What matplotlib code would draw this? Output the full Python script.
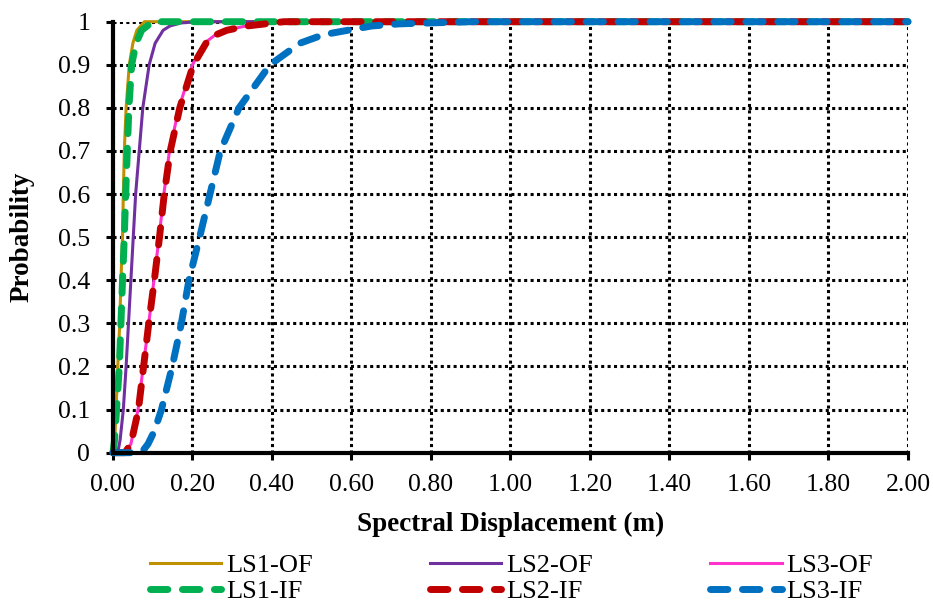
import matplotlib
matplotlib.use("Agg")
import matplotlib.pyplot as plt

# ---- data ----
ls1_of_x = [0, 0.004, 0.0076, 0.012, 0.017, 0.020, 0.024, 0.026, 0.0285, 0.033, 0.041, 0.050, 0.060, 0.079, 2.0]
ls1_of_p = [0, 0.02, 0.10, 0.20, 0.30, 0.40, 0.50, 0.60, 0.70, 0.80, 0.90, 0.95, 0.98, 1.0, 1.0]

ls1_if_x = [0, 0.004, 0.009, 0.016, 0.020, 0.024, 0.0285, 0.032, 0.036, 0.040, 0.047, 0.058, 0.072, 0.100, 2.0]
ls1_if_p = [0, 0.03, 0.10, 0.20, 0.30, 0.40, 0.50, 0.60, 0.70, 0.80, 0.90, 0.95, 0.98, 1.0, 1.0]

ls2_of_x = [0, 0.012, 0.018, 0.026, 0.033, 0.039, 0.045, 0.051, 0.057, 0.066, 0.075, 0.091, 0.106, 0.126, 0.143, 0.170, 0.210, 2.0]
ls2_of_p = [0, 0.0, 0.03, 0.10, 0.20, 0.30, 0.40, 0.50, 0.60, 0.70, 0.80, 0.90, 0.95, 0.98, 0.99, 0.997, 1.0, 1.0]

ls3_of_x = [0, 0.030, 0.045, 0.063, 0.076, 0.090, 0.103, 0.116, 0.128, 0.142, 0.166, 0.200, 0.230, 0.258, 0.284, 0.334, 0.430, 2.0]
ls3_of_p = [0, 0.0, 0.02, 0.10, 0.20, 0.30, 0.40, 0.50, 0.60, 0.70, 0.80, 0.90, 0.95, 0.97, 0.98, 0.99, 1.0, 1.0]

ls2_if_x = [0, 0.030, 0.045, 0.064, 0.077, 0.090, 0.104, 0.117, 0.129, 0.144, 0.168, 0.202, 0.234, 0.260, 0.286, 0.336, 0.430, 2.0]
ls2_if_p = [0, 0.0, 0.02, 0.10, 0.20, 0.30, 0.40, 0.50, 0.60, 0.70, 0.80, 0.90, 0.95, 0.97, 0.98, 0.99, 1.0, 1.0]

ls3_if_x = [0, 0.060, 0.074, 0.088, 0.104, 0.122, 0.149, 0.172, 0.191, 0.218, 0.244, 0.270, 0.317, 0.395, 0.470, 0.530, 0.650, 0.720, 0.900, 2.0]
ls3_if_p = [0, 0.0, 0.003, 0.02, 0.05, 0.10, 0.20, 0.30, 0.40, 0.50, 0.60, 0.70, 0.80, 0.90, 0.95, 0.97, 0.99, 0.995, 1.0, 1.0]

x_ticks = [0.0, 0.2, 0.4, 0.6, 0.8, 1.0, 1.2, 1.4, 1.6, 1.8, 2.0]
x_tick_labels = ["0.00", "0.20", "0.40", "0.60", "0.80", "1.00", "1.20", "1.40", "1.60", "1.80", "2.00"]
y_ticks = [0.0, 0.1, 0.2, 0.3, 0.4, 0.5, 0.6, 0.7, 0.8, 0.9, 1.0]
y_tick_labels = ["0", "0.1", "0.2", "0.3", "0.4", "0.5", "0.6", "0.7", "0.8", "0.9", "1"]

plt.rcParams['font.family'] = ['Liberation Serif', 'DejaVu Serif']

fig = plt.figure(figsize=(9.33, 6.03), dpi=100)
ax = fig.add_axes([0.1211, 0.2493, 0.8521, 0.7147])

solid_lw = 2.2
dash_lw = 5.0
dash_pat = (2.5, 2.1)
fs_tick = 18.5
fs_label = 19.5
fs_leg = 19

l1, = ax.plot(ls1_of_x, ls1_of_p, color='#BF9000', lw=solid_lw, label='LS1-OF', clip_on=False, zorder=3)
l3, = ax.plot(ls3_of_x, ls3_of_p, color='#FF33CC', lw=solid_lw, label='LS3-OF', clip_on=False, zorder=3)
l2, = ax.plot(ls2_of_x, ls2_of_p, color='#7030A0', lw=solid_lw, label='LS2-OF', clip_on=False, zorder=3)
d1, = ax.plot(ls1_if_x, ls1_if_p, color='#00B050', lw=dash_lw, dashes=dash_pat, dash_capstyle='round',
              label='LS1-IF', clip_on=False, zorder=4)
d2, = ax.plot(ls2_if_x, ls2_if_p, color='#C00000', lw=dash_lw, dashes=dash_pat, dash_capstyle='round',
              label='LS2-IF', clip_on=False, zorder=4)
d3, = ax.plot(ls3_if_x, ls3_if_p, color='#0070C0', lw=dash_lw, dashes=dash_pat, dash_capstyle='round',
              label='LS3-IF', clip_on=False, zorder=5)

ax.set_xlim(0, 2.0)
ax.set_ylim(0, 1.0)
ax.set_xticks(x_ticks)
ax.set_xticklabels(x_tick_labels)
ax.set_yticks(y_ticks)
ax.set_yticklabels(y_tick_labels)

ax.grid(True, color='black', linestyle=(0, (1.0, 1.1)), linewidth=2.2, dash_capstyle='butt')
ax.set_axisbelow(True)
for s in ['top', 'right']:
    ax.spines[s].set_visible(False)
for s in ['left', 'bottom']:
    ax.spines[s].set_linewidth(3.0)
    ax.spines[s].set_zorder(6)

ax.tick_params(axis='both', direction='out', length=5, width=2.2, labelsize=fs_tick)
ax.tick_params(axis='y', pad=11.5)
ax.tick_params(axis='x', pad=10)

ax.set_xlabel('Spectral Displacement (m)', fontsize=fs_label, fontweight='bold', labelpad=12)
ax.set_ylabel('Probability', fontsize=fs_label, fontweight='bold')
ax.yaxis.set_label_coords(-0.099, 0.5)

handles = [l1, d1, l2, d2, l3, d3]
fig.legend(handles=handles, labels=[h.get_label() for h in handles], ncol=3,
           loc='upper left', bbox_to_anchor=(150 / 933, 1 - 554 / 603), frameon=False,
           borderpad=0, borderaxespad=0,
           fontsize=fs_leg, handlelength=2.7, handletextpad=0.18, columnspacing=4.45,
           labelspacing=0.08)

fig.savefig('out.png', dpi=100)
